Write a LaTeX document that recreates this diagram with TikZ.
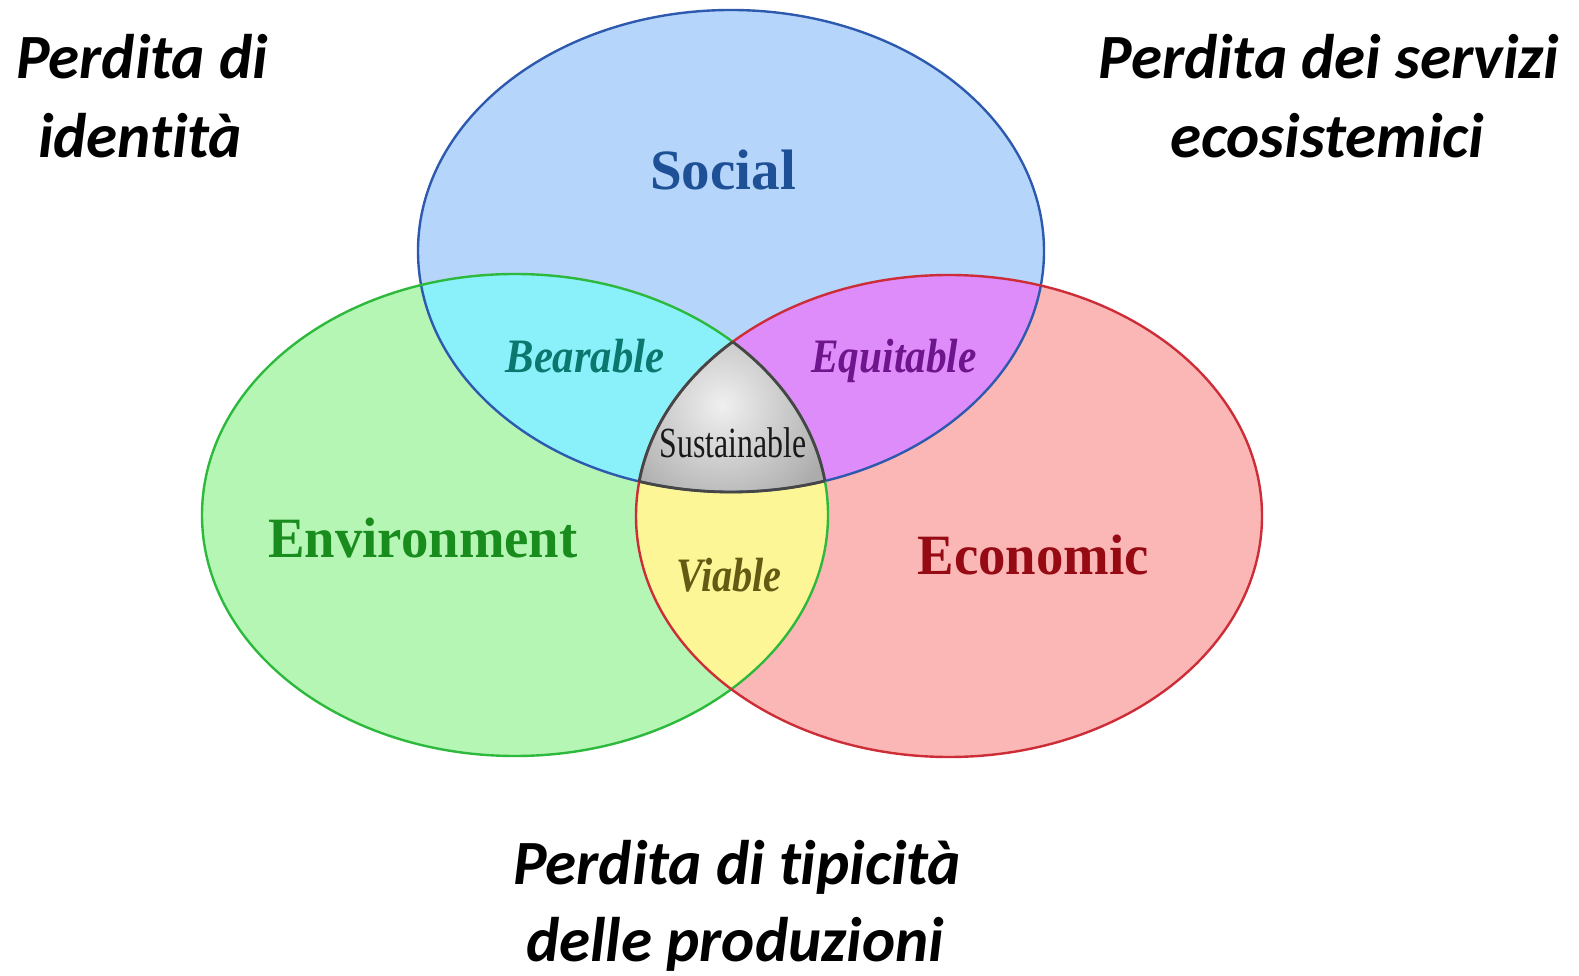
\documentclass[tikz,border=0pt]{standalone}
\usepackage{fontspec}
\newfontfamily\carlito{Carlito}[Ligatures=NoCommon]
\newfontfamily\lserif{Liberation Serif}
\definecolor{socfill}{RGB}{181,213,251}
\definecolor{envfill}{RGB}{181,246,181}
\definecolor{ecofill}{RGB}{251,182,182}
\definecolor{bearfill}{RGB}{138,240,250}
\definecolor{equifill}{RGB}{222,140,250}
\definecolor{viafill}{RGB}{252,246,150}
\definecolor{socline}{RGB}{45,90,175}
\definecolor{envline}{RGB}{45,185,60}
\definecolor{ecoline}{RGB}{205,45,55}
\definecolor{midline}{RGB}{70,70,70}
\definecolor{soctext}{RGB}{30,80,150}
\definecolor{envtext}{RGB}{25,140,30}
\definecolor{ecotext}{RGB}{150,10,20}
\definecolor{beartext}{RGB}{10,120,110}
\definecolor{equitext}{RGB}{110,20,140}
\definecolor{viatext}{RGB}{100,90,20}
\definecolor{sustext}{RGB}{25,25,25}
\begin{document}
\begin{tikzpicture}[x=1pt,y=1pt,
  bigtext/.style={font=\carlito\bfseries\itshape\fontsize{63}{80}\selectfont, anchor=base, inner sep=0pt},
  setlabel/.style={font=\lserif\bfseries\fontsize{57}{60}\selectfont, anchor=base, inner sep=0pt},
  pairlabel/.style={font=\lserif\bfseries\itshape\fontsize{48}{50}\selectfont, anchor=base, inner sep=0pt},
  midlabel/.style={font=\lserif\fontsize{43}{45}\selectfont, anchor=base, inner sep=0pt},
  ell/.style={x radius=313, y radius=241},
  border/.style={line width=2.4pt},
]
\useasboundingbox (0,0) rectangle (1579,975);
\coordinate (S) at (731,724);
\coordinate (En) at (515,460);
\coordinate (Ec) at (949,459);

% base fills
\fill[socfill] (S) ellipse [ell];
\fill[envfill] (En) ellipse [ell];
\fill[ecofill] (Ec) ellipse [ell];

% pairwise intersections
\begin{scope}
  \clip (S) ellipse [ell];
  \fill[bearfill] (En) ellipse [ell];
  \fill[equifill] (Ec) ellipse [ell];
\end{scope}
\begin{scope}
  \clip (En) ellipse [ell];
  \fill[viafill] (Ec) ellipse [ell];
\end{scope}

% centre
\begin{scope}
  \clip (S) ellipse [ell];
  \clip (En) ellipse [ell];
  \clip (Ec) ellipse [ell];
  \fill[gray!65] (600,400) rectangle (860,680);
  \shade[inner color=gray!12, outer color=gray!65] (722,570) circle (115);
\end{scope}

% borders
\draw[border, socline] (S) ellipse [ell];
\draw[border, envline] (En) ellipse [ell];
\draw[border, ecoline] (Ec) ellipse [ell];

% centre outline
\begin{scope}
  \clip (S) ellipse [ell];
  \clip (En) ellipse [ell];
  \draw[line width=2.8pt, midline] (Ec) ellipse [ell];
\end{scope}
\begin{scope}
  \clip (S) ellipse [ell];
  \clip (Ec) ellipse [ell];
  \draw[line width=2.8pt, midline] (En) ellipse [ell];
\end{scope}
\begin{scope}
  \clip (En) ellipse [ell];
  \clip (Ec) ellipse [ell];
  \draw[line width=2.8pt, midline] (S) ellipse [ell];
\end{scope}

% set labels
\node[setlabel, text=soctext] (social) at (723,785) {Social};
\node[setlabel, text=envtext] (environment) at (423,417) {\scalebox{0.96}[1]{Environment}};
\node[setlabel, text=ecotext] (economic) at (1033,400) {\scalebox{0.96}[1]{Economic}};
\node[pairlabel, text=beartext] (bearable) at (585,602) {\scalebox{0.89}[1]{Bearable}};
\node[pairlabel, text=equitext] (equitable) at (894,602) {\scalebox{0.86}[1]{Equitable}};
\node[pairlabel, text=viatext] (viable) at (729,383) {\scalebox{0.84}[1]{Viable}};
\node[midlabel, text=sustext] (sustainable) at (733,517) {\scalebox{0.74}[1]{Sustainable}};

% outer texts
\node[bigtext] (tl1) at (142,896) {Perdita di};
\node[bigtext] (tl2) at (140,817) {identità};
\node[bigtext] (tr1) at (1329,896) {Perdita dei servizi};
\node[bigtext] (tr2) at (1327,817) {ecosistemici};
\node[bigtext] (b1) at (737,91) {Perdita di tipicità};
\node[bigtext] (b2) at (735,14) {delle produzioni};
\end{tikzpicture}
\end{document}
